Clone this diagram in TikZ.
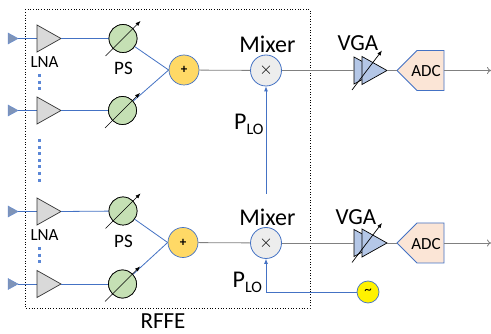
\documentclass[tikz,border=0pt]{standalone}
\usepackage{fontspec}
\setmainfont{Carlito}
\usetikzlibrary{arrows.meta,calc}
\definecolor{bl}{HTML}{4472C4}
\definecolor{gl}{HTML}{808080}
\definecolor{dotc}{HTML}{5B87D6}
\definecolor{srcc}{HTML}{7F94B8}
\tikzset{
  ps/.style={circle,draw=black,line width=.7pt,fill={rgb,255:red,197;green,224;blue,180},minimum size=28pt,inner sep=0pt},
  sumn/.style={circle,draw=bl,line width=.7pt,fill={rgb,255:red,255;green,217;blue,102},minimum size=30pt,inner sep=0pt,font=\fontsize{13}{13}\selectfont\bfseries},
  mix/.style={circle,draw=bl,line width=.8pt,fill={rgb,255:red,237;green,237;blue,237},minimum size=31pt,inner sep=0pt,font=\fontsize{18}{18}\selectfont},
  lo/.style={circle,draw=bl,line width=.7pt,fill=yellow,minimum size=22pt,inner sep=0pt,font=\fontsize{15}{15}\selectfont},
  adc/.style={font=\fontsize{17}{17}\selectfont,inner sep=0pt},
  big/.style={font=\fontsize{24}{24}\selectfont,inner sep=0pt},
  rf/.style={font=\fontsize{23}{23}\selectfont,inner sep=0pt},
  vgat/.style={font=\fontsize{23}{23}\selectfont,inner sep=0pt},
  small/.style={font=\fontsize{17}{17}\selectfont,inner sep=0pt},
  pst/.style={font=\fontsize{19}{19}\selectfont,inner sep=0pt},
  wire/.style={bl,line width=.8pt},
  graywire/.style={gl,line width=.8pt},
  tune/.style={black,line width=.7pt,-{Latex[length=5pt,width=4pt]}},
  arraydots/.style={dotc,line width=3pt,dash pattern=on 3pt off 3.6pt},
}
\newcommand{\ampl}[2]{%
  \fill[srcc] (8,#2-5.5) -- (18,#2) -- (8,#2+5.5) -- cycle;
  \draw[bl!80,line width=.5pt] (8,#2-5.5) -- (18,#2) -- (8,#2+5.5) -- cycle;
  \coordinate (#1-src) at (18,#2);
  \coordinate (#1-in) at (37,#2);
  \coordinate (#1-out) at (61,#2);
  \draw[wire] (#1-src) -- (#1-in);
  \draw[black!80,line width=.7pt,fill={rgb,255:red,217;green,217;blue,217}] (37,#2-13.5) -- (61,#2) -- (37,#2+13.5) -- cycle;
}
\newcommand{\vga}[2]{%
  \coordinate (#1-in) at (354,#2);
  \coordinate (#1-out) at (387,#2);
  \draw[black,line width=.7pt,fill={rgb,255:red,180;green,199;blue,231}] (354,#2-13.5) -- (379,#2) -- (354,#2+13.5) -- cycle;
  \draw[black,line width=.7pt,fill={rgb,255:red,180;green,199;blue,231}] (362,#2-14) -- (387,#2) -- (362,#2+14) -- cycle;
  \coordinate (#1-a) at (352,#2+19.5);
  \coordinate (#1-b) at (382,#2-20);
  \draw[tune] (#1-a) -- (#1-b);
}
\newcommand{\adcbox}[2]{%
  \draw[bl,line width=.8pt,fill={rgb,255:red,251;green,229;blue,214}] (397,#2) -- (417,#2-20) -- (444,#2-20) -- (444,#2+20) -- (417,#2+20) -- cycle;
  \coordinate (#1-in) at (397,#2);
  \coordinate (#1-out) at (444,#2);
  \node[adc] (#1-t) at (426,#2+1) {ADC};
}
\newcommand{\tuned}[1]{%
  \draw[tune] ($(#1)+(-17.5,17.5)$) -- ($(#1)+(17.5,-17.5)$);
}
\begin{document}
\begin{tikzpicture}[x=1pt,y=-1pt]
\useasboundingbox (0,0) rectangle (491,334);
\fill[white] (0,0) rectangle (491,334);
\draw[black,line width=.7pt,dotted] (25,9.5) rectangle (310,308);

\ampl{a1}{38.5}
\ampl{a2}{110.5}
\ampl{a3}{211.5}
\ampl{a4}{284}

\node[ps] (p1) at (123,38.5) {};
\node[ps] (p2) at (122.5,110.5) {};
\node[ps] (p3) at (123,211) {};
\node[ps] (p4) at (122.5,284) {};

\node[sumn] (s1) at (184,70) {+};
\node[sumn] (s2) at (183,242.5) {+};
\node[mix] (m1) at (266,70.5) {$\times$};
\node[mix] (m2) at (266,243) {$\times$};
\node[lo] (osc) at (368,292) {\textasciitilde};

\vga{v1}{70.5}
\vga{v2}{243}
\adcbox{d1}{70.5}
\adcbox{d2}{243}
\coordinate (e1) at (491,70.5);
\coordinate (e2) at (491,243);
\coordinate (c1) at (266,194);
\coordinate (c2) at (266,292);

\draw[wire] (a1-out) -- (p1);
\draw[wire] (a2-out) -- (p2);
\draw[wire] (a3-out) -- (p3);
\draw[wire] (a4-out) -- (p4);
\draw[wire] (p1) -- (s1.west);
\draw[wire] (p2) -- (s1.west);
\draw[wire] (p3) -- (s2.west);
\draw[wire] (p4) -- (s2.west);
\draw[graywire] (s1) -- (m1);
\draw[graywire] (s2) -- (m2);
\draw[graywire] (m1) -- (v1-in);
\draw[graywire] (m2) -- (v2-in);
\draw[graywire] (v1-out) -- (d1-in);
\draw[graywire] (v2-out) -- (d2-in);
\draw[graywire,-{To[length=4pt,width=7pt]}] (d1-out) -- (e1);
\draw[graywire,-{To[length=4pt,width=7pt]}] (d2-out) -- (e2);
\draw[wire,-{Latex[length=5pt,width=4pt]}] (c1) -- (m1);
\draw[wire,-{Latex[length=5pt,width=4pt]}] (osc) -- (c2) -- (m2);

\node[ps] at (p1) {};
\node[ps] at (p2) {};
\node[ps] at (p3) {};
\node[ps] at (p4) {};
\tuned{p1}
\tuned{p2}
\tuned{p3}
\tuned{p4}

\coordinate (q1) at (39,74);
\coordinate (q2) at (39,91);
\coordinate (q3) at (39,139);
\coordinate (q4) at (39,183);
\coordinate (q5) at (39,247);
\coordinate (q6) at (39,264);
\draw[arraydots] (q1) -- (q2);
\draw[arraydots] (q3) -- (q4);
\draw[arraydots] (q5) -- (q6);

\node[small] (l1) at (44.5,62.5) {LNA};
\node[small] (l2) at (44.5,235.5) {LNA};
\node[pst] (t1) at (123.5,68) {PS};
\node[pst] (t2) at (123.5,241) {PS};
\node[big] (x1) at (267.5,44.5) {Mixer};
\node[big] (x2) at (267.5,217) {Mixer};
\node[vgat] (g1) at (358,43) {VGA};
\node[vgat] (g2) at (356,217) {VGA};
\node[rf] (r) at (163,321) {RFFE};
\node[big,anchor=base west] (o1) at (234,130) {P\raisebox{-5pt}{\fontsize{16}{16}\selectfont LO}};
\node[big,anchor=base west] (o2) at (232.5,288) {P\raisebox{-5pt}{\fontsize{16}{16}\selectfont LO}};
\end{tikzpicture}
\end{document}
